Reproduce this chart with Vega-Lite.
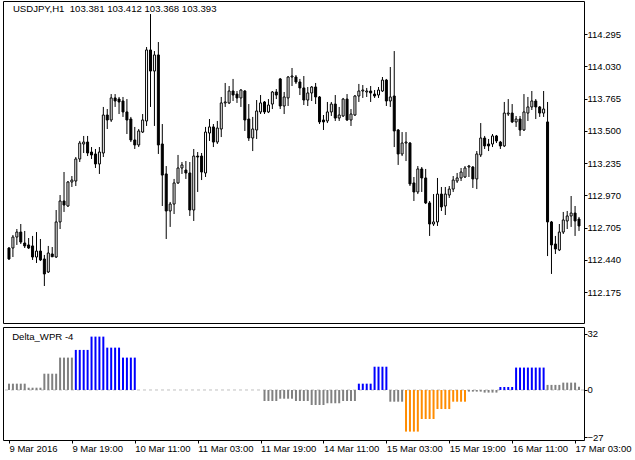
{
"$schema": "https://vega.github.io/schema/vega-lite/v6.json",
"background": "white",
"padding": {"left": 2, "top": 0, "right": 0, "bottom": 0},
"config": {"view": {"stroke": "black", "strokeWidth": 1}, "axis": {"labelFont": "Liberation Sans", "labelFontSize": 9.5, "labelColor": "black", "tickColor": "black", "domain": false, "grid": false, "title": null}},
"data": {"values": [
{"i":0,"o":112.538,"h":112.546,"l":112.440,"c":112.448,"v":3.6,"s":"g"},
{"i":1,"o":112.538,"h":112.645,"l":112.464,"c":112.628,"v":3.6,"s":"g"},
{"i":2,"o":112.628,"h":112.694,"l":112.563,"c":112.669,"v":3.6,"s":"g"},
{"i":3,"o":112.669,"h":112.735,"l":112.571,"c":112.587,"v":3.6,"s":"g"},
{"i":4,"o":112.579,"h":112.678,"l":112.538,"c":112.555,"v":3.6,"s":"g"},
{"i":5,"o":112.563,"h":112.620,"l":112.530,"c":112.538,"v":1.3,"s":"g"},
{"i":6,"o":112.555,"h":112.637,"l":112.440,"c":112.464,"v":1.3,"s":"g"},
{"i":7,"o":112.464,"h":112.669,"l":112.415,"c":112.513,"v":1.3,"s":"g"},
{"i":8,"o":112.513,"h":112.612,"l":112.431,"c":112.440,"v":1.3,"s":"g"},
{"i":9,"o":112.448,"h":112.481,"l":112.226,"c":112.325,"v":9.3,"s":"g"},
{"i":10,"o":112.341,"h":112.555,"l":112.333,"c":112.497,"v":9.3,"s":"g"},
{"i":11,"o":112.489,"h":112.546,"l":112.464,"c":112.466,"v":9.3,"s":"g"},
{"i":12,"o":112.464,"h":112.850,"l":112.456,"c":112.752,"v":9.3,"s":"g"},
{"i":13,"o":112.752,"h":112.973,"l":112.694,"c":112.924,"v":18.5,"s":"g"},
{"i":14,"o":112.924,"h":113.162,"l":112.834,"c":112.891,"v":18.5,"s":"g"},
{"i":15,"o":112.883,"h":113.088,"l":112.875,"c":113.080,"v":18.5,"s":"g"},
{"i":16,"o":113.080,"h":113.129,"l":113.039,"c":113.096,"v":18.5,"s":"g"},
{"i":17,"o":113.088,"h":113.285,"l":113.047,"c":113.269,"v":22.9,"s":"b"},
{"i":18,"o":113.269,"h":113.417,"l":113.244,"c":113.400,"v":22.9,"s":"b"},
{"i":19,"o":113.392,"h":113.458,"l":113.318,"c":113.408,"v":22.9,"s":"b"},
{"i":20,"o":113.408,"h":113.458,"l":113.293,"c":113.318,"v":22.9,"s":"b"},
{"i":21,"o":113.326,"h":113.367,"l":113.269,"c":113.302,"v":30.5,"s":"b"},
{"i":22,"o":113.310,"h":113.351,"l":113.195,"c":113.228,"v":30.5,"s":"b"},
{"i":23,"o":113.228,"h":113.367,"l":113.146,"c":113.326,"v":30.5,"s":"b"},
{"i":24,"o":113.318,"h":113.696,"l":113.285,"c":113.630,"v":30.5,"s":"b"},
{"i":25,"o":113.630,"h":113.679,"l":113.515,"c":113.589,"v":24.2,"s":"b"},
{"i":26,"o":113.589,"h":113.802,"l":113.573,"c":113.770,"v":24.2,"s":"b"},
{"i":27,"o":113.770,"h":113.802,"l":113.696,"c":113.745,"v":24.2,"s":"b"},
{"i":28,"o":113.761,"h":113.778,"l":113.638,"c":113.737,"v":24.2,"s":"b"},
{"i":29,"o":113.745,"h":113.778,"l":113.614,"c":113.655,"v":18.5,"s":"b"},
{"i":30,"o":113.655,"h":113.761,"l":113.474,"c":113.589,"v":18.5,"s":"b"},
{"i":31,"o":113.597,"h":113.614,"l":113.408,"c":113.425,"v":18.5,"s":"b"},
{"i":32,"o":113.425,"h":113.532,"l":113.351,"c":113.384,"v":18.5,"s":"b"},
{"i":33,"o":113.384,"h":113.515,"l":113.367,"c":113.499,"v":0,"s":"g"},
{"i":34,"o":113.490,"h":113.638,"l":113.482,"c":113.589,"v":0,"s":"g"},
{"i":35,"o":113.581,"h":114.188,"l":113.540,"c":114.164,"v":0,"s":"g"},
{"i":36,"o":114.164,"h":114.459,"l":113.696,"c":113.991,"v":0,"s":"g"},
{"i":37,"o":113.991,"h":114.155,"l":113.540,"c":114.123,"v":0,"s":"g"},
{"i":38,"o":114.123,"h":114.229,"l":113.310,"c":113.384,"v":0,"s":"g"},
{"i":39,"o":113.392,"h":113.556,"l":112.883,"c":113.137,"v":0,"s":"g"},
{"i":40,"o":113.146,"h":113.211,"l":112.612,"c":112.842,"v":0,"s":"g"},
{"i":41,"o":112.842,"h":112.916,"l":112.711,"c":112.899,"v":0,"s":"g"},
{"i":42,"o":112.899,"h":113.105,"l":112.817,"c":113.072,"v":0,"s":"g"},
{"i":43,"o":113.072,"h":113.302,"l":113.064,"c":113.195,"v":0,"s":"g"},
{"i":44,"o":113.195,"h":113.244,"l":113.146,"c":113.220,"v":0,"s":"g"},
{"i":45,"o":113.178,"h":113.252,"l":113.105,"c":113.154,"v":0,"s":"g"},
{"i":46,"o":113.154,"h":113.244,"l":112.801,"c":112.850,"v":0,"s":"g"},
{"i":47,"o":112.850,"h":113.351,"l":112.760,"c":113.293,"v":0,"s":"g"},
{"i":48,"o":113.293,"h":113.326,"l":112.998,"c":113.285,"v":0,"s":"g"},
{"i":49,"o":113.293,"h":113.318,"l":113.096,"c":113.162,"v":0,"s":"g"},
{"i":50,"o":113.154,"h":113.532,"l":113.121,"c":113.490,"v":0,"s":"g"},
{"i":51,"o":113.482,"h":113.597,"l":113.417,"c":113.532,"v":0,"s":"g"},
{"i":52,"o":113.532,"h":113.556,"l":113.367,"c":113.408,"v":0,"s":"g"},
{"i":53,"o":113.408,"h":113.581,"l":113.392,"c":113.523,"v":0,"s":"g"},
{"i":54,"o":113.515,"h":113.778,"l":113.449,"c":113.729,"v":0,"s":"g"},
{"i":55,"o":113.729,"h":113.893,"l":113.696,"c":113.737,"v":0,"s":"g"},
{"i":56,"o":113.729,"h":113.868,"l":113.720,"c":113.827,"v":0,"s":"g"},
{"i":57,"o":113.827,"h":113.926,"l":113.745,"c":113.794,"v":0,"s":"g"},
{"i":58,"o":113.802,"h":113.827,"l":113.729,"c":113.770,"v":0,"s":"g"},
{"i":59,"o":113.770,"h":113.843,"l":113.696,"c":113.835,"v":0,"s":"g"},
{"i":60,"o":113.827,"h":113.835,"l":113.499,"c":113.589,"v":0,"s":"g"},
{"i":61,"o":113.597,"h":113.720,"l":113.417,"c":113.441,"v":0,"s":"g"},
{"i":62,"o":113.441,"h":113.614,"l":113.334,"c":113.515,"v":0,"s":"g"},
{"i":63,"o":113.507,"h":113.753,"l":113.433,"c":113.663,"v":0,"s":"g"},
{"i":64,"o":113.655,"h":113.794,"l":113.638,"c":113.729,"v":0,"s":"g"},
{"i":65,"o":113.737,"h":113.745,"l":113.638,"c":113.655,"v":-6.3,"s":"g"},
{"i":66,"o":113.655,"h":113.761,"l":113.646,"c":113.712,"v":-6.3,"s":"g"},
{"i":67,"o":113.720,"h":113.827,"l":113.679,"c":113.819,"v":-6.3,"s":"g"},
{"i":68,"o":113.819,"h":113.843,"l":113.761,"c":113.794,"v":-6.3,"s":"g"},
{"i":69,"o":113.926,"h":113.934,"l":113.679,"c":113.704,"v":-5.0,"s":"g"},
{"i":70,"o":113.704,"h":113.819,"l":113.638,"c":113.778,"v":-5.0,"s":"g"},
{"i":71,"o":113.770,"h":113.950,"l":113.704,"c":113.942,"v":-5.0,"s":"g"},
{"i":72,"o":113.942,"h":114.016,"l":113.868,"c":113.950,"v":-5.0,"s":"g"},
{"i":73,"o":113.942,"h":113.958,"l":113.885,"c":113.901,"v":-6.3,"s":"g"},
{"i":74,"o":113.901,"h":113.926,"l":113.794,"c":113.852,"v":-6.3,"s":"g"},
{"i":75,"o":113.852,"h":113.950,"l":113.712,"c":113.753,"v":-6.3,"s":"g"},
{"i":76,"o":113.753,"h":113.860,"l":113.704,"c":113.811,"v":-6.3,"s":"g"},
{"i":77,"o":113.811,"h":113.868,"l":113.745,"c":113.860,"v":-8.6,"s":"g"},
{"i":78,"o":113.860,"h":113.893,"l":113.720,"c":113.778,"v":-8.6,"s":"g"},
{"i":79,"o":113.778,"h":113.786,"l":113.556,"c":113.573,"v":-8.6,"s":"g"},
{"i":80,"o":113.589,"h":113.630,"l":113.507,"c":113.573,"v":-8.6,"s":"g"},
{"i":81,"o":113.581,"h":113.737,"l":113.564,"c":113.655,"v":-7.6,"s":"g"},
{"i":82,"o":113.655,"h":113.737,"l":113.622,"c":113.720,"v":-7.6,"s":"g"},
{"i":83,"o":113.720,"h":113.794,"l":113.581,"c":113.605,"v":-7.6,"s":"g"},
{"i":84,"o":113.605,"h":113.696,"l":113.581,"c":113.630,"v":-7.6,"s":"g"},
{"i":85,"o":113.622,"h":113.770,"l":113.614,"c":113.761,"v":-6.3,"s":"g"},
{"i":86,"o":113.761,"h":113.802,"l":113.581,"c":113.589,"v":-6.3,"s":"g"},
{"i":87,"o":113.589,"h":113.679,"l":113.540,"c":113.638,"v":-6.3,"s":"g"},
{"i":88,"o":113.630,"h":113.794,"l":113.622,"c":113.786,"v":-6.3,"s":"g"},
{"i":89,"o":113.786,"h":113.885,"l":113.737,"c":113.827,"v":3.6,"s":"b"},
{"i":90,"o":113.827,"h":113.876,"l":113.770,"c":113.835,"v":3.6,"s":"b"},
{"i":91,"o":113.819,"h":113.852,"l":113.778,"c":113.827,"v":3.6,"s":"b"},
{"i":92,"o":113.827,"h":113.868,"l":113.737,"c":113.811,"v":3.6,"s":"b"},
{"i":93,"o":113.802,"h":113.835,"l":113.770,"c":113.786,"v":13.3,"s":"b"},
{"i":94,"o":113.794,"h":113.860,"l":113.770,"c":113.835,"v":13.3,"s":"b"},
{"i":95,"o":113.827,"h":113.942,"l":113.819,"c":113.917,"v":13.3,"s":"b"},
{"i":96,"o":113.917,"h":113.926,"l":113.704,"c":113.745,"v":13.3,"s":"b"},
{"i":97,"o":113.745,"h":114.024,"l":113.696,"c":113.778,"v":-6.7,"s":"g"},
{"i":98,"o":113.786,"h":114.155,"l":113.367,"c":113.499,"v":-6.7,"s":"g"},
{"i":99,"o":113.507,"h":113.515,"l":113.220,"c":113.310,"v":-6.7,"s":"g"},
{"i":100,"o":113.310,"h":113.490,"l":113.293,"c":113.400,"v":-6.7,"s":"g"},
{"i":101,"o":113.400,"h":113.490,"l":113.252,"c":113.408,"v":-23.8,"s":"o"},
{"i":102,"o":113.400,"h":113.408,"l":113.047,"c":113.064,"v":-23.8,"s":"o"},
{"i":103,"o":113.072,"h":113.121,"l":112.924,"c":112.998,"v":-23.8,"s":"o"},
{"i":104,"o":112.998,"h":113.211,"l":112.981,"c":113.187,"v":-23.8,"s":"o"},
{"i":105,"o":113.187,"h":113.203,"l":112.998,"c":113.113,"v":-16.6,"s":"o"},
{"i":106,"o":113.113,"h":113.187,"l":112.899,"c":112.908,"v":-16.6,"s":"o"},
{"i":107,"o":112.908,"h":112.924,"l":112.637,"c":112.735,"v":-16.6,"s":"o"},
{"i":108,"o":112.735,"h":112.981,"l":112.719,"c":112.752,"v":-16.6,"s":"o"},
{"i":109,"o":112.752,"h":113.113,"l":112.719,"c":112.981,"v":-10.9,"s":"o"},
{"i":110,"o":112.981,"h":113.039,"l":112.842,"c":112.875,"v":-10.9,"s":"o"},
{"i":111,"o":112.883,"h":113.039,"l":112.809,"c":112.981,"v":-10.9,"s":"o"},
{"i":112,"o":112.973,"h":113.047,"l":112.949,"c":113.022,"v":-10.9,"s":"o"},
{"i":113,"o":113.022,"h":113.129,"l":112.998,"c":113.096,"v":-6.7,"s":"o"},
{"i":114,"o":113.088,"h":113.154,"l":113.072,"c":113.113,"v":-6.7,"s":"o"},
{"i":115,"o":113.113,"h":113.195,"l":113.088,"c":113.162,"v":-6.7,"s":"o"},
{"i":116,"o":113.121,"h":113.211,"l":113.113,"c":113.195,"v":-6.7,"s":"o"},
{"i":117,"o":113.203,"h":113.220,"l":113.121,"c":113.211,"v":-0.95,"s":"g"},
{"i":118,"o":113.203,"h":113.211,"l":113.031,"c":113.105,"v":-0.95,"s":"g"},
{"i":119,"o":113.105,"h":113.334,"l":113.022,"c":113.310,"v":-0.95,"s":"g"},
{"i":120,"o":113.302,"h":113.564,"l":113.285,"c":113.441,"v":-0.95,"s":"g"},
{"i":121,"o":113.441,"h":113.458,"l":113.351,"c":113.376,"v":-1.5,"s":"g"},
{"i":122,"o":113.392,"h":113.433,"l":113.334,"c":113.376,"v":-1.5,"s":"g"},
{"i":123,"o":113.392,"h":113.474,"l":113.367,"c":113.458,"v":-1.5,"s":"g"},
{"i":124,"o":113.458,"h":113.466,"l":113.400,"c":113.417,"v":-1.5,"s":"g"},
{"i":125,"o":113.408,"h":113.417,"l":113.351,"c":113.376,"v":1.7,"s":"b"},
{"i":126,"o":113.376,"h":113.737,"l":113.367,"c":113.646,"v":1.7,"s":"b"},
{"i":127,"o":113.638,"h":113.761,"l":113.622,"c":113.646,"v":1.7,"s":"b"},
{"i":128,"o":113.646,"h":113.720,"l":113.564,"c":113.573,"v":1.7,"s":"b"},
{"i":129,"o":113.573,"h":113.622,"l":113.532,"c":113.597,"v":12.8,"s":"b"},
{"i":130,"o":113.597,"h":113.622,"l":113.458,"c":113.507,"v":12.8,"s":"b"},
{"i":131,"o":113.507,"h":113.802,"l":113.499,"c":113.655,"v":12.8,"s":"b"},
{"i":132,"o":113.646,"h":113.778,"l":113.581,"c":113.696,"v":12.8,"s":"b"},
{"i":133,"o":113.696,"h":113.827,"l":113.671,"c":113.745,"v":12.8,"s":"b"},
{"i":134,"o":113.745,"h":113.761,"l":113.597,"c":113.696,"v":12.8,"s":"b"},
{"i":135,"o":113.696,"h":113.704,"l":113.614,"c":113.646,"v":12.8,"s":"b"},
{"i":136,"o":113.646,"h":113.827,"l":113.614,"c":113.679,"v":12.8,"s":"b"},
{"i":137,"o":113.573,"h":113.737,"l":112.472,"c":112.752,"v":2.9,"s":"g"},
{"i":138,"o":112.752,"h":112.760,"l":112.325,"c":112.563,"v":2.9,"s":"g"},
{"i":139,"o":112.571,"h":112.637,"l":112.489,"c":112.530,"v":2.9,"s":"g"},
{"i":140,"o":112.522,"h":112.735,"l":112.513,"c":112.669,"v":2.9,"s":"g"},
{"i":141,"o":112.669,"h":112.834,"l":112.653,"c":112.768,"v":4.2,"s":"g"},
{"i":142,"o":112.760,"h":112.842,"l":112.694,"c":112.801,"v":4.2,"s":"g"},
{"i":143,"o":112.801,"h":112.965,"l":112.711,"c":112.825,"v":4.2,"s":"g"},
{"i":144,"o":112.825,"h":112.883,"l":112.637,"c":112.760,"v":4.2,"s":"g"},
{"i":145,"o":112.776,"h":112.793,"l":112.678,"c":112.719,"v":1.9,"s":"g"}
]},
"spacing": 2,
"vconcat": [
{
"width": 581, "height": 322,
"layer": [
{"mark": {"type": "rule", "color": "black", "strokeWidth": 1, "clip": true},
 "encoding": {
  "x": {"field": "i", "type": "quantitative", "scale": {"domain": [-0.25, 145.0], "nice": false, "zero": false}, "axis": null},
  "y": {"field": "l", "type": "quantitative", "scale": {"domain": [111.9223, 114.566], "nice": false, "zero": false},
        "axis": {"orient": "right", "values": [112.175, 112.44, 112.705, 112.97, 113.235, 113.5, 113.765, 114.03, 114.295], "format": ".3f", "tickSize": 3, "labelPadding": 0, "labelAlign": "left", "labelBaseline": "middle"}},
  "y2": {"field": "h"}}},
{"mark": {"type": "bar", "size": 2, "stroke": "black", "strokeWidth": 1, "clip": true},
 "encoding": {
  "x": {"field": "i", "type": "quantitative"},
  "y": {"field": "o", "type": "quantitative"},
  "y2": {"field": "c"},
  "fill": {"condition": {"test": "datum.c > datum.o", "value": "white"}, "value": "black"}}},
{"data": {"values": [{"t": "USDJPY,H1\u00a0\u00a0103.381 103.412 103.368 103.393"}]},
 "mark": {"type": "text", "align": "left", "baseline": "alphabetic", "font": "Liberation Sans", "fontSize": 9.6, "color": "black"},
 "encoding": {"x": {"datum": 1.0}, "y": {"datum": 114.478}, "text": {"field": "t"}}}
]
},
{
"width": 581, "height": 113,
"layer": [
{"data": {"values": [{"z": 0}]},
 "mark": {"type": "rule", "color": "#C0C0C0", "strokeWidth": 1, "strokeDash": [3, 3]},
 "encoding": {"y": {"field": "z", "type": "quantitative", "scale": {"domain": [-28.6, 36], "nice": false, "zero": false}, "axis": {"orient": "right", "values": [-27, 0, 32], "tickSize": 3, "labelPadding": 0, "labelAlign": "left", "labelBaseline": "middle"}}}},
{"mark": {"type": "bar", "size": 2, "clip": true},
 "encoding": {
  "x": {"field": "i", "type": "quantitative", "scale": {"domain": [-0.25, 145.0], "nice": false, "zero": false},
        "axis": {"orient": "bottom", "values": [0, 16, 32, 48, 64, 80, 96, 112, 128, 144], "labelExpr": "['9 Mar 2016','9 Mar 19:00','10 Mar 11:00','11 Mar 03:00','11 Mar 19:00','14 Mar 11:00','15 Mar 03:00','15 Mar 19:00','16 Mar 11:00','17 Mar 03:00'][round(datum.value/16)]", "labelAlign": "left", "labelPadding": 0, "tickSize": 3, "labelFlush": false, "labelOverlap": false, "labelBound": false}},
  "y": {"field": "v", "type": "quantitative"},
  "y2": {"datum": 0},
  "color": {"field": "s", "type": "nominal", "scale": {"domain": ["g", "b", "o"], "range": ["#808080", "#0000FF", "#FF8C00"]}, "legend": null}}},
{"data": {"values": [{"t": "Delta_WPR -4"}]},
 "mark": {"type": "text", "align": "left", "baseline": "alphabetic", "font": "Liberation Sans", "fontSize": 9.6, "color": "black"},
 "encoding": {"x": {"datum": 0.8}, "y": {"datum": 28.6}, "text": {"field": "t"}}}
]
}
]
}
